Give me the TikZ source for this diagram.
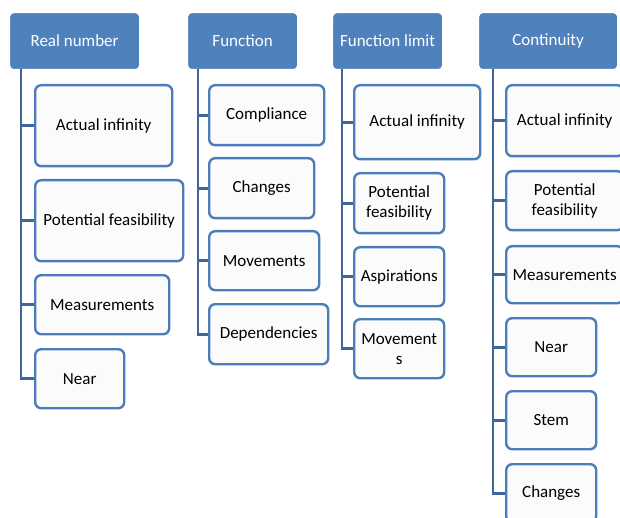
\documentclass[tikz,border=0pt]{standalone}
\usepackage{fontspec}
\setmainfont{Carlito}
\usepackage{tikz}
\usepackage{xcolor}

\definecolor{hdblue}{RGB}{79,129,189}
\definecolor{edgeblue}{RGB}{76,125,187}
\definecolor{stemblue}{RGB}{62,102,155}

\begin{document}
\begin{tikzpicture}[x=1pt,y=-1pt,
  head/.style={draw=white, line width=1.2pt, fill=hdblue, rounded corners=4pt,
    text=white, anchor=north west, minimum height=57pt, inner sep=0pt,
    font=\fontsize{17}{20}\selectfont},
  leaf/.style={draw=edgeblue, line width=2.4pt, fill=gray!3, rounded corners=6pt,
    anchor=north west, inner sep=0pt, align=center,
    font=\fontsize{17}{20}\selectfont},
  stem/.style={draw=stemblue, line width=2.8pt}]

% page size
\useasboundingbox (0,0) rectangle (620,518);
\clip (0,0) rectangle (620,518);

% Draw the four headings
\node[head, minimum width=130pt] (rn) at (9,12)   {Real number};
\node[head, minimum width=110pt] (fn) at (187,12) {Function};
\node[head, minimum width=110pt] (fl) at (332,12) {Function limit};
\node[head, minimum width=139pt] (ct) at (478,12) {Continuity};

\coordinate (rnstem) at (21,69);
\coordinate (fnstem) at (198,69);
\coordinate (flstem) at (342,69);
\coordinate (ctstem) at (493,69);

% Real number
\node[leaf, minimum width=137pt, minimum height=81pt] (rn1) at (34,84)  {Actual infinity};
\node[leaf, minimum width=148pt, minimum height=81pt] (rn2) at (34,179) {Potential feasibility};
\node[leaf, minimum width=134pt, minimum height=59pt] (rn3) at (34,274) {Measurements};
\node[leaf, minimum width=89pt,  minimum height=59pt] (rn4) at (34,348) {Near};

% Function
\node[leaf, minimum width=115pt, minimum height=60pt] (fn1) at (208,84)  {Compliance};
\node[leaf, minimum width=105pt, minimum height=60pt] (fn2) at (208,157) {Changes};
\node[leaf, minimum width=110pt, minimum height=59pt] (fn3) at (208,230) {Movements};
\node[leaf, minimum width=119pt, minimum height=60pt] (fn4) at (208,303) {Dependencies};

% Function limit
\node[leaf, minimum width=126pt, minimum height=74pt] (fl1) at (353,84)  {Actual infinity};
\node[leaf, minimum width=90pt,  minimum height=60pt] (fl2) at (353,172) {Potential\\feasibility};
\node[leaf, minimum width=90pt,  minimum height=59pt] (fl3) at (353,246) {Aspirations};
\node[leaf, minimum width=90pt,  minimum height=59pt] (fl4) at (353,318) {Movement\\s};

% Continuity
\node[leaf, minimum width=117pt, minimum height=71pt] (ct1) at (505,84)  {Actual infinity};
\node[leaf, minimum width=117pt, minimum height=59pt] (ct2) at (505,170) {Potential\\feasibility};
\node[leaf, minimum width=117pt, minimum height=57pt] (ct3) at (505,245) {Measurements};
\node[leaf, minimum width=90pt,  minimum height=58pt] (ct4) at (505,317) {Near};
\node[leaf, minimum width=90pt,  minimum height=58pt] (ct5) at (505,390) {Stem};
\node[leaf, minimum width=90pt,  minimum height=58pt] (ct6) at (505,463) {Changes};

% Draw the connectors
\foreach \i in {1,...,4} \draw[stem] (rnstem) |- (rn\i.west);
\foreach \i in {1,...,4} \draw[stem] (fnstem) |- (fn\i.west);
\foreach \i in {1,...,4} \draw[stem] (flstem) |- (fl\i.west);
\foreach \i in {1,...,6} \draw[stem] (ctstem) |- (ct\i.west);

\end{tikzpicture}
\end{document}
